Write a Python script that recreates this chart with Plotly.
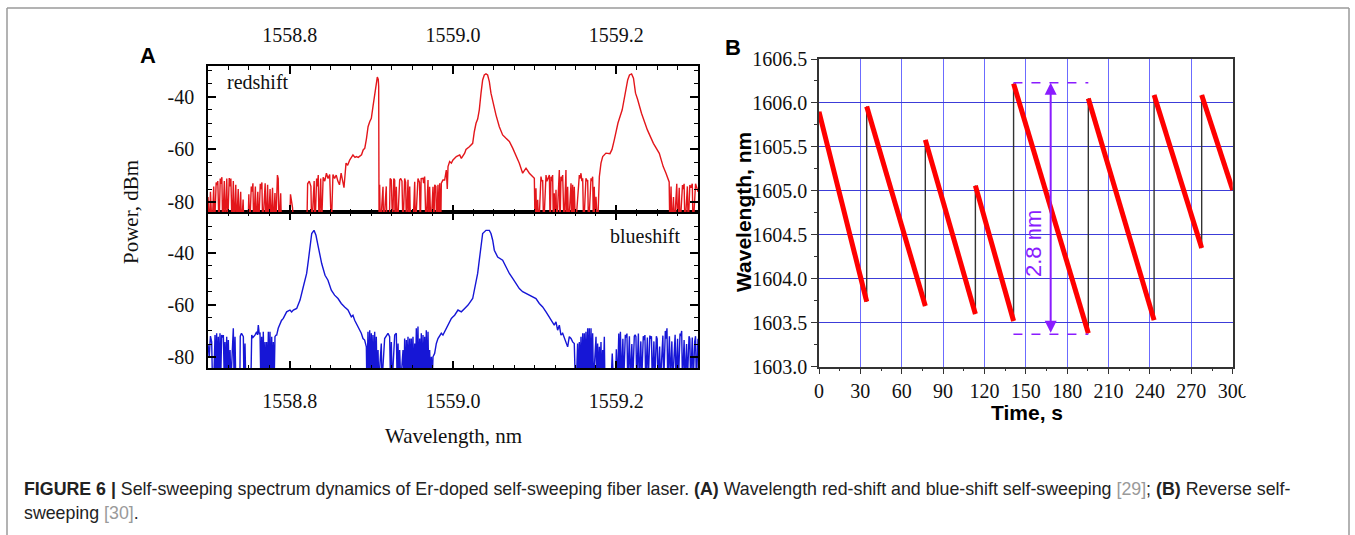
import plotly.graph_objects as go

W, H = 1355, 535

# ---------------- Panel A data: (wavelength nm, power dBm) ----------------
red_spectrum = [
    (1558.700, -78), (1558.702, -90), (1558.703, -76), (1558.705, -90), (1558.707, -74), (1558.708, -90),
    (1558.710, -72.5), (1558.711, -73.5), (1558.712, -72), (1558.7135, -90), (1558.715, -71), (1558.716, -73),
    (1558.717, -70.5), (1558.718, -90), (1558.720, -72), (1558.721, -90), (1558.723, -71), (1558.724, -90),
    (1558.726, -70.8), (1558.727, -74), (1558.728, -71), (1558.7295, -90), (1558.731, -72), (1558.732, -90),
    (1558.734, -73.4), (1558.735, -90), (1558.737, -75), (1558.738, -90), (1558.740, -76), (1558.741, -90),
    (1558.743, -79), (1558.744, -90), (1558.749, -90), (1558.750, -77), (1558.751, -90), (1558.753, -74),
    (1558.754, -76), (1558.755, -72.8), (1558.756, -90), (1558.758, -74), (1558.759, -90), (1558.761, -76),
    (1558.762, -90), (1558.764, -73), (1558.765, -75), (1558.766, -72.5), (1558.767, -90), (1558.769, -74),
    (1558.770, -72.8), (1558.771, -90), (1558.773, -73.4), (1558.774, -90), (1558.776, -75), (1558.777, -90),
    (1558.779, -74.5), (1558.780, -90), (1558.782, -76.5), (1558.783, -90), (1558.785, -69.7), (1558.786, -71),
    (1558.787, -90), (1558.789, -76.6), (1558.790, -90), (1558.800, -90), (1558.801, -77), (1558.8035, -82),
    (1558.805, -90), (1558.821, -90), (1558.822, -73), (1558.824, -72), (1558.826, -74), (1558.827, -90),
    (1558.829, -73.4), (1558.830, -72), (1558.831, -90), (1558.833, -71), (1558.834, -74), (1558.835, -69.7),
    (1558.836, -90), (1558.838, -71), (1558.839, -90), (1558.841, -70.5), (1558.843, -72), (1558.845, -69),
    (1558.847, -71), (1558.849, -69.5), (1558.851, -90), (1558.853, -69.5), (1558.855, -71), (1558.857, -69.7),
    (1558.859, -72), (1558.861, -73.4), (1558.863, -69), (1558.865, -72), (1558.8665, -74.5), (1558.869, -65.2),
    (1558.871, -66), (1558.8735, -64), (1558.876, -63), (1558.8775, -62.1), (1558.880, -63), (1558.8816, -62.7),
    (1558.884, -63), (1558.8857, -62.7), (1558.888, -62), (1558.890, -60.2), (1558.892, -59.5), (1558.894, -56),
    (1558.896, -51.4), (1558.898, -49.5), (1558.900, -48.2), (1558.902, -43.8), (1558.904, -38.7), (1558.906, -34.9),
    (1558.9073, -32.6), (1558.9085, -33.5), (1558.909, -36.2), (1558.9095, -90),
    (1558.9102, -73.4), (1558.911, -90), (1558.9143, -74.1), (1558.915, -90), (1558.9183, -74), (1558.919, -90),
    (1558.922, -90), (1558.923, -71), (1558.9245, -71.6), (1558.926, -90), (1558.9275, -71), (1558.9286, -71.6),
    (1558.929, -90), (1558.9306, -74.1), (1558.932, -90), (1558.9347, -71.6), (1558.936, -71), (1558.9375, -72),
    (1558.9388, -90), (1558.9408, -71), (1558.942, -72.5), (1558.943, -90), (1558.9449, -71.5), (1558.946, -90),
    (1558.947, -74), (1558.948, -90), (1558.951, -90), (1558.9531, -72.2), (1558.954, -90), (1558.9571, -71),
    (1558.959, -72.5), (1558.960, -90), (1558.961, -71), (1558.9633, -70.9), (1558.964, -72.8), (1558.9653, -70.3),
    (1558.967, -90), (1558.9694, -71.6), (1558.970, -90), (1558.9714, -74.1), (1558.973, -90), (1558.9755, -74.1),
    (1558.9765, -90), (1558.9776, -73.4), (1558.979, -74), (1558.980, -90), (1558.9816, -73.4), (1558.983, -90),
    (1558.9837, -72.8), (1558.985, -90), (1558.9857, -72.8), (1558.9877, -71.6),
    (1558.9898, -71.6), (1558.9918, -67.8), (1558.993, -75), (1558.9939, -66.5), (1558.9959, -64.6), (1558.998, -65.2),
    (1559.000, -64), (1559.0041, -62.7), (1559.0082, -62.1), (1559.0102, -63.4), (1559.0143, -61.4), (1559.0159, -60),
    (1559.020, -59), (1559.0241, -57.7), (1559.0261, -53.3), (1559.0282, -50.1), (1559.0302, -48.5), (1559.0322, -45),
    (1559.0343, -38.7), (1559.0363, -33.7), (1559.0383, -31.8), (1559.0404, -31.4), (1559.0424, -31.8), (1559.0445, -34.3),
    (1559.0465, -38.7), (1559.0486, -41.9), (1559.0506, -43.8), (1559.0526, -46.9), (1559.0567, -51.4), (1559.0608, -54.5),
    (1559.0649, -55.8), (1559.069, -57), (1559.0731, -59.5), (1559.0771, -62.1), (1559.0812, -65.2), (1559.0853, -69),
    (1559.0894, -67.1), (1559.0935, -69), (1559.0976, -70.3), (1559.0996, -70.9),
    (1559.1005, -90), (1559.1016, -74.7), (1559.1025, -90), (1559.1037, -79.1), (1559.105, -90), (1559.1077, -70.3),
    (1559.1088, -72), (1559.1098, -71.6), (1559.111, -90), (1559.1139, -69.7), (1559.115, -72), (1559.118, -69.7),
    (1559.119, -90), (1559.120, -70.3), (1559.121, -72), (1559.122, -69.7), (1559.123, -90), (1559.124, -76.6),
    (1559.125, -90), (1559.1261, -75.3), (1559.127, -90), (1559.1302, -67.8), (1559.131, -90), (1559.1322, -70.3),
    (1559.133, -72), (1559.1343, -69.7), (1559.136, -90), (1559.1383, -67.8), (1559.139, -90), (1559.1404, -74.1),
    (1559.1415, -90), (1559.1445, -72.8), (1559.1455, -90), (1559.1465, -73.4), (1559.1475, -90), (1559.1485, -74.1),
    (1559.150, -90), (1559.1547, -69.7), (1559.1557, -71), (1559.1567, -69), (1559.1578, -72), (1559.1588, -70.9),
    (1559.160, -90), (1559.1628, -70.9), (1559.1638, -72), (1559.1649, -71.6), (1559.166, -90), (1559.169, -70.9),
    (1559.170, -72), (1559.171, -70.3), (1559.172, -90), (1559.173, -74.1), (1559.174, -90), (1559.1751, -77.9),
    (1559.177, -90), (1559.1792, -70.3), (1559.1812, -65.2), (1559.1833, -62.7), (1559.1853, -62.1), (1559.1873, -61.4),
    (1559.1922, -61.6), (1559.1947, -60), (1559.1975, -56.4), (1559.202, -50), (1559.2072, -45), (1559.2106, -39),
    (1559.2139, -33.7), (1559.2161, -31.8), (1559.2187, -31.4), (1559.221, -33), (1559.2235, -38.7), (1559.226, -41),
    (1559.2308, -46.3), (1559.238, -52.6), (1559.2454, -57.7), (1559.2526, -61.5), (1559.2574, -66.5), (1559.2608, -69),
    (1559.2647, -72.3), (1559.2655, -90), (1559.267, -74), (1559.268, -90), (1559.270, -78), (1559.271, -90),
    (1559.274, -73), (1559.275, -90), (1559.277, -74.5), (1559.278, -90), (1559.281, -73.5), (1559.282, -75),
    (1559.283, -73), (1559.284, -90), (1559.287, -74), (1559.288, -90), (1559.290, -73.5), (1559.2915, -74.5),
    (1559.293, -73), (1559.294, -90), (1559.296, -74), (1559.297, -73), (1559.298, -74), (1559.300, -76),
]

blue_spectrum = [
    (1558.700, -75), (1558.7015, -80), (1558.703, -72), (1558.7045, -74.2), (1558.7055, -90), (1558.707, -90),
    (1558.7086, -71.6), (1558.7095, -90), (1558.7106, -70.9), (1558.7115, -90), (1558.7126, -72.2), (1558.7135, -90),
    (1558.7147, -70.9), (1558.7155, -90), (1558.7167, -71.6), (1558.7178, -72.5), (1558.7188, -71.6), (1558.720, -90),
    (1558.7208, -74.2), (1558.7218, -90), (1558.7229, -72.2), (1558.7238, -90), (1558.7249, -73.5), (1558.726, -90),
    (1558.727, -77.3), (1558.728, -90), (1558.731, -69), (1558.732, -90), (1558.7331, -72.2), (1558.734, -90),
    (1558.739, -90), (1558.7395, -72), (1558.741, -70.9), (1558.7433, -72.2), (1558.744, -90), (1558.7453, -74.8),
    (1558.7463, -90), (1558.7525, -90), (1558.7535, -71.6), (1558.755, -72.5), (1558.7575, -71.6), (1558.7596, -70.3),
    (1558.7606, -71.5), (1558.7616, -67.8), (1558.7627, -71), (1558.7637, -70.9), (1558.7647, -90), (1558.7657, -72.2),
    (1558.7667, -90), (1558.7677, -70.3), (1558.7688, -90), (1558.7698, -74.2), (1558.7708, -90), (1558.7718, -74.2),
    (1558.7728, -90), (1558.7739, -70.3), (1558.775, -90), (1558.7759, -70.3), (1558.777, -90), (1558.778, -72.2),
    (1558.779, -90), (1558.780, -74.2), (1558.781, -90), (1558.782, -72.2), (1558.7833, -71.6), (1558.7841, -71.6),
    (1558.786, -69), (1558.7882, -67.1), (1558.790, -66), (1558.7922, -65.2), (1558.7963, -62.7), (1558.7984, -62.3),
    (1558.8004, -62), (1558.8024, -62.7), (1558.8045, -62), (1558.8086, -61.4), (1558.8127, -58.2), (1558.8167, -53.1),
    (1558.8188, -49.9), (1558.8208, -48), (1558.8229, -43), (1558.8249, -36.6), (1558.827, -32.7), (1558.8298, -31.5),
    (1558.8322, -33.4), (1558.8351, -37.9), (1558.8392, -44.2), (1558.8433, -48.7), (1558.8469, -50.6), (1558.851, -54.4),
    (1558.855, -56.3), (1558.8592, -57.6), (1558.8632, -59.5), (1558.8673, -60.8), (1558.8714, -62), (1558.8755, -64.6),
    (1558.8775, -64), (1558.8796, -65.9), (1558.8837, -68.4), (1558.8857, -69.7), (1558.8877, -70.9), (1558.8898, -72.9),
    (1558.8918, -73.5), (1558.8939, -76.1), (1558.8945, -90), (1558.8959, -70.3), (1558.897, -90), (1558.898, -69.7),
    (1558.899, -90), (1558.900, -70.9), (1558.901, -90), (1558.902, -71.6), (1558.903, -90), (1558.9041, -70.3),
    (1558.905, -90), (1558.9061, -72.2), (1558.907, -90), (1558.9082, -77.3), (1558.909, -90), (1558.9122, -74.8),
    (1558.913, -90), (1558.9163, -72.9), (1558.9184, -71.6), (1558.9204, -70.9), (1558.9224, -72.2), (1558.9235, -90),
    (1558.9245, -74.2), (1558.9255, -90), (1558.9286, -71.6), (1558.9306, -70.9), (1558.9316, -90), (1558.9327, -74.8),
    (1558.9337, -90), (1558.9347, -77.3), (1558.936, -90), (1558.9388, -77.3), (1558.940, -90), (1558.9408, -72.9),
    (1558.9418, -90), (1558.9429, -73.5), (1558.944, -90), (1558.9449, -72.2), (1558.946, -90), (1558.947, -72.9),
    (1558.948, -90), (1558.949, -72.9), (1558.950, -90), (1558.951, -72.2), (1558.952, -90), (1558.9531, -74.8),
    (1558.954, -90), (1558.9551, -69), (1558.956, -90), (1558.9571, -68.3), (1558.958, -90), (1558.9592, -72.9),
    (1558.960, -90), (1558.9612, -70.9), (1558.962, -90), (1558.9633, -71.6), (1558.9643, -90), (1558.9653, -72.2),
    (1558.9663, -90), (1558.9673, -69.7), (1558.9683, -90), (1558.9694, -70.3), (1558.9704, -90), (1558.9714, -77.3),
    (1558.9725, -90), (1558.9735, -79.9), (1558.9745, -90), (1558.9755, -79.9), (1558.9775, -78.6), (1558.9796, -74.8),
    (1558.9816, -72.9), (1558.9837, -71.6), (1558.9857, -70.9), (1558.9877, -71.6), (1558.9898, -70.3), (1558.9918, -69),
    (1558.9939, -67.8), (1558.998, -65.2), (1559.000, -64.6), (1559.002, -64), (1559.0061, -62), (1559.0102, -62.7),
    (1559.0143, -61.4), (1559.0184, -60.1), (1559.0241, -57.6), (1559.0282, -51.8), (1559.0302, -48), (1559.0322, -42.9),
    (1559.0343, -36.6), (1559.0363, -32.7), (1559.0404, -31.5), (1559.0445, -31.5), (1559.0465, -32.7), (1559.0486, -35.3),
    (1559.0506, -39.1), (1559.0547, -41.7), (1559.0608, -42.9), (1559.0649, -45.5), (1559.069, -48), (1559.0731, -49.9),
    (1559.0771, -51.8), (1559.0812, -53.8), (1559.0853, -55), (1559.0894, -55.7), (1559.0935, -56.3), (1559.0976, -57),
    (1559.1016, -57.6), (1559.1057, -59.5), (1559.1098, -60.8), (1559.1139, -62.7), (1559.118, -64.6), (1559.122, -66.5),
    (1559.124, -67.8), (1559.1261, -66.5), (1559.1281, -69.7), (1559.1302, -67.8), (1559.1322, -71.6), (1559.1343, -70.9),
    (1559.1363, -72.9), (1559.1383, -74.8), (1559.1404, -76.1), (1559.1424, -72.2), (1559.1445, -72.9), (1559.1465, -74.2),
    (1559.1485, -74.8), (1559.1498, -90), (1559.151, -90), (1559.1526, -74.8), (1559.1535, -90), (1559.1547, -74.2),
    (1559.1557, -90), (1559.1567, -72.2), (1559.1577, -90), (1559.1588, -70.9), (1559.1598, -90), (1559.1608, -70.9),
    (1559.1618, -90), (1559.1628, -70.3), (1559.1638, -90), (1559.1649, -69), (1559.1659, -90), (1559.1669, -69),
    (1559.1679, -90), (1559.169, -69), (1559.170, -90), (1559.171, -70.9), (1559.172, -90), (1559.1751, -72.2),
    (1559.176, -90), (1559.1771, -74.8), (1559.178, -90), (1559.1792, -76.1), (1559.180, -90), (1559.1812, -74.2),
    (1559.182, -90), (1559.1833, -77.3), (1559.184, -90), (1559.1853, -72.2), (1559.186, -90), (1559.1935, -90),
    (1559.195, -78.6), (1559.1965, -90), (1559.199, -90), (1559.200, -77), (1559.2015, -90), (1559.203, -71),
    (1559.204, -90), (1559.205, -70.3), (1559.2065, -90), (1559.208, -73), (1559.209, -90), (1559.211, -71.5),
    (1559.212, -72.5), (1559.213, -71), (1559.214, -90), (1559.216, -72), (1559.217, -90), (1559.219, -75),
    (1559.220, -90), (1559.222, -72), (1559.223, -71.5), (1559.224, -72.2), (1559.225, -90), (1559.227, -71),
    (1559.228, -90), (1559.230, -74), (1559.231, -90), (1559.233, -72), (1559.234, -73.5), (1559.235, -71.6),
    (1559.236, -90), (1559.238, -72.5), (1559.239, -90), (1559.241, -71.8), (1559.242, -73), (1559.243, -72),
    (1559.244, -90), (1559.246, -74), (1559.247, -90), (1559.249, -72), (1559.250, -73), (1559.251, -90),
    (1559.253, -76), (1559.254, -90), (1559.256, -72.5), (1559.257, -71.8), (1559.258, -90), (1559.260, -70),
    (1559.261, -73), (1559.262, -69), (1559.263, -90), (1559.265, -72), (1559.266, -90), (1559.268, -74),
    (1559.269, -90), (1559.271, -72.5), (1559.272, -71.5), (1559.273, -90), (1559.275, -73), (1559.276, -90),
    (1559.278, -71), (1559.279, -72), (1559.280, -70), (1559.281, -90), (1559.283, -73.5), (1559.284, -90),
    (1559.286, -75), (1559.287, -90), (1559.289, -72), (1559.290, -73), (1559.291, -90), (1559.293, -72.5),
    (1559.294, -90), (1559.296, -74), (1559.297, -72), (1559.298, -90), (1559.300, -73),
]

red_wl = [p[0] for p in red_spectrum]
red_dbm = [p[1] for p in red_spectrum]
blue_wl = [p[0] for p in blue_spectrum]
blue_dbm = [p[1] for p in blue_spectrum]

# ---------------- Panel B data: sweep segments ----------------
seg_t_start = [0, 34.6, 77.1, 113.4, 141.1, 195.3, 243.0, 277.5]
seg_t_end = [34.6, 77.1, 113.4, 141.1, 195.3, 243.0, 277.5, 300]
seg_wl_start = [1605.90, 1605.96, 1605.58, 1605.06, 1606.22, 1606.05, 1606.09, 1606.09]
seg_wl_end = [1603.74, 1603.69, 1603.60, 1603.52, 1603.38, 1603.53, 1604.35, 1605.01]

span_top, span_bottom = 1606.23, 1603.37
span_t0, span_t1, span_arrow_t = 141.0, 195.3, 168.0
span_label = "2.8 nm"

# ---------------- layout helpers ----------------
def px(x):
    return x / W

def py(y):
    return 1 - y / H

SERIF = "Liberation Serif, Times New Roman, serif"
SANS = "Liberation Sans, Arial, sans-serif"
PURPLE = "#8a1cff"

fig = go.Figure()

fig.add_trace(go.Scatter(x=red_wl, y=red_dbm, mode="lines", xaxis="x2", yaxis="y",
                         line=dict(color="#e3161b", width=1.4), showlegend=False))
fig.add_trace(go.Scatter(x=blue_wl, y=blue_dbm, mode="lines", xaxis="x", yaxis="y2",
                         line=dict(color="#1616d6", width=1.4), showlegend=False))

# black connecting data line
bx, by = [], []
for ts, ws, te, we in zip(seg_t_start, seg_wl_start, seg_t_end, seg_wl_end):
    bx += [ts, te]
    by += [ws, we]
fig.add_trace(go.Scatter(x=bx, y=by, mode="lines", xaxis="x3", yaxis="y3",
                         line=dict(color="#333333", width=1.4), showlegend=False))
rx, ry = [], []
for ts, ws, te, we in zip(seg_t_start, seg_wl_start, seg_t_end, seg_wl_end):
    rx += [ts, te, None]
    ry += [ws, we, None]
fig.add_trace(go.Scatter(x=rx, y=ry, mode="lines", xaxis="x3", yaxis="y3",
                         line=dict(color="#ff0000", width=5), showlegend=False))

xA = [px(208), px(698)]
yTop = [py(212.3), py(65.7)]
yBot = [py(368.3), py(212.3)]
xB = [px(819), px(1232.7)]
yB = [py(366.7), py(59)]

axA_common = dict(showline=True, linecolor="black", linewidth=1.6, mirror="allticks",
                  ticks="inside", ticklen=8, tickwidth=1.5, tickcolor="black",
                  showgrid=False, zeroline=False, automargin=False,
                  tickfont=dict(family=SERIF, size=20, color="#111"))

xA_ticks = dict(range=[1558.7, 1559.3], tickmode="linear", tick0=1558.8, dtick=0.2, tickformat=".1f",
                minor=dict(dtick=0.025, tick0=1558.7, ticks="inside", ticklen=4, tickwidth=1.3, tickcolor="black"))

yA_ticks = dict(tickmode="array", tickvals=[-80, -60, -40], ticktext=["-80", "-60", "-40"],
                minor=dict(dtick=5, tick0=-80, ticks="inside", ticklen=4, tickwidth=1.3, tickcolor="black"))

fig.update_layout(
    width=W, height=H, margin=dict(l=0, r=0, t=0, b=0, pad=0, autoexpand=False),
    paper_bgcolor="white", plot_bgcolor="white",
    xaxis=dict(domain=xA, anchor="y2", side="bottom", ticklabelstandoff=14, **xA_ticks, **axA_common),
    xaxis2=dict(domain=xA, anchor="y", side="top", ticklabelstandoff=14, **xA_ticks, **axA_common),
    yaxis=dict(domain=yTop, anchor="x2", range=[-83.8, -28.3], ticklabelstandoff=8, **yA_ticks, **axA_common),
    yaxis2=dict(domain=yBot, anchor="x", range=[-84.3, -24.6], ticklabelstandoff=8, **yA_ticks, **axA_common),
    xaxis3=dict(domain=xB, anchor="y3", range=[0, 300], tickmode="linear", tick0=0, dtick=30,
                ticks="outside", ticklen=6, tickwidth=1.3, tickcolor="#333", automargin=False,
                minor=dict(dtick=15, tick0=0, ticks="outside", ticklen=3, tickwidth=1.2, tickcolor="#333", showgrid=False),
                showline=True, linecolor="#333", linewidth=1.5, mirror=True,
                showgrid=True, gridcolor="#6b6bff", gridwidth=1, zeroline=False,
                tickfont=dict(family=SERIF, size=20, color="#111")),
    yaxis3=dict(domain=yB, anchor="x3", range=[1603.0, 1606.5], tickmode="linear", tick0=1603.0, dtick=0.5,
                tickformat=".1f", automargin=False,
                ticks="outside", ticklen=6, tickwidth=1.3, tickcolor="#333",
                minor=dict(dtick=0.25, tick0=1603.0, ticks="outside", ticklen=3, tickwidth=1.2, tickcolor="#333", showgrid=False),
                showline=True, linecolor="#333", linewidth=1.5, mirror=True,
                showgrid=True, gridcolor="#3c3cd8", gridwidth=1, zeroline=False,
                tickfont=dict(family=SERIF, size=20, color="#111")),
)

ann = []
def txt(x, y, s, font, angle=0, xanchor="center", yanchor="middle"):
    ann.append(dict(x=px(x), y=py(y), xref="paper", yref="paper", text=s, showarrow=False,
                    font=font, textangle=angle, xanchor=xanchor, yanchor=yanchor))

txt(148, 55, "<b>A</b>", dict(family=SANS, size=22, color="black"))
txt(733, 48, "<b>B</b>", dict(family=SANS, size=22, color="black"))
txt(131, 212, "Power, dBm", dict(family=SERIF, size=21, color="#111"), angle=-90)
txt(453, 436, "Wavelength, nm", dict(family=SERIF, size=21, color="#111"))
txt(258, 82, "redshift", dict(family=SERIF, size=20, color="#111"))
txt(645, 236, "blueshift", dict(family=SERIF, size=20, color="#111"))
txt(743, 212, "<b>Wavelength, nm</b>", dict(family=SANS, size=21, color="black"), angle=-90)
txt(1027, 412, "<b>Time, s</b>", dict(family=SANS, size=21, color="black"))

cap_font = dict(family=SANS, size=17.8, color="#222")
txt(22, 489, "<b>FIGURE 6 |</b> Self-sweeping spectrum dynamics of Er-doped self-sweeping fiber laser. "
             "<b>(A)</b> Wavelength red-shift and blue-shift self-sweeping <span style='color:#9a9a9a'>[29]</span>; "
             "<b>(B)</b> Reverse self-", cap_font, xanchor="left")
txt(22, 513, "sweeping <span style='color:#9a9a9a'>[30]</span>.", cap_font, xanchor="left")

# purple span annotation
ann.append(dict(x=span_arrow_t, y=span_top, ax=span_arrow_t, ay=span_bottom, xref="x3", yref="y3",
                axref="x3", ayref="y3", text="", showarrow=True, arrowside="end+start",
                arrowhead=2, arrowsize=1.2, arrowwidth=2, arrowcolor=PURPLE, standoff=0, startstandoff=0))
ann.append(dict(x=155.5, y=1604.4, xref="x3", yref="y3", text=span_label, showarrow=False,
                textangle=-90, font=dict(family=SANS, size=22, color=PURPLE)))
fig.update_layout(annotations=ann)

shapes = []
for yv in (span_top, span_bottom):
    shapes.append(dict(type="line", xref="x3", yref="y3", x0=span_t0, x1=span_t1, y0=yv, y1=yv,
                       line=dict(color=PURPLE, width=1.5, dash="dash")))
# figure frame
frame = dict(color="#9a9a9a", width=1.5)
shapes.append(dict(type="line", xref="paper", yref="paper", x0=px(7), x1=px(1349), y0=py(8), y1=py(8), line=frame))
shapes.append(dict(type="line", xref="paper", yref="paper", x0=px(7), x1=px(7), y0=py(8), y1=0, line=frame))
shapes.append(dict(type="line", xref="paper", yref="paper", x0=px(1349), x1=px(1349), y0=py(8), y1=0, line=frame))
# clip of last time label, as in the reference
shapes.append(dict(type="rect", xref="paper", yref="paper", x0=px(1243), x1=px(1347), y0=py(396), y1=py(372),
                   fillcolor="white", line=dict(width=0), layer="above"))
fig.update_layout(shapes=shapes)

fig.write_html("out.html")
